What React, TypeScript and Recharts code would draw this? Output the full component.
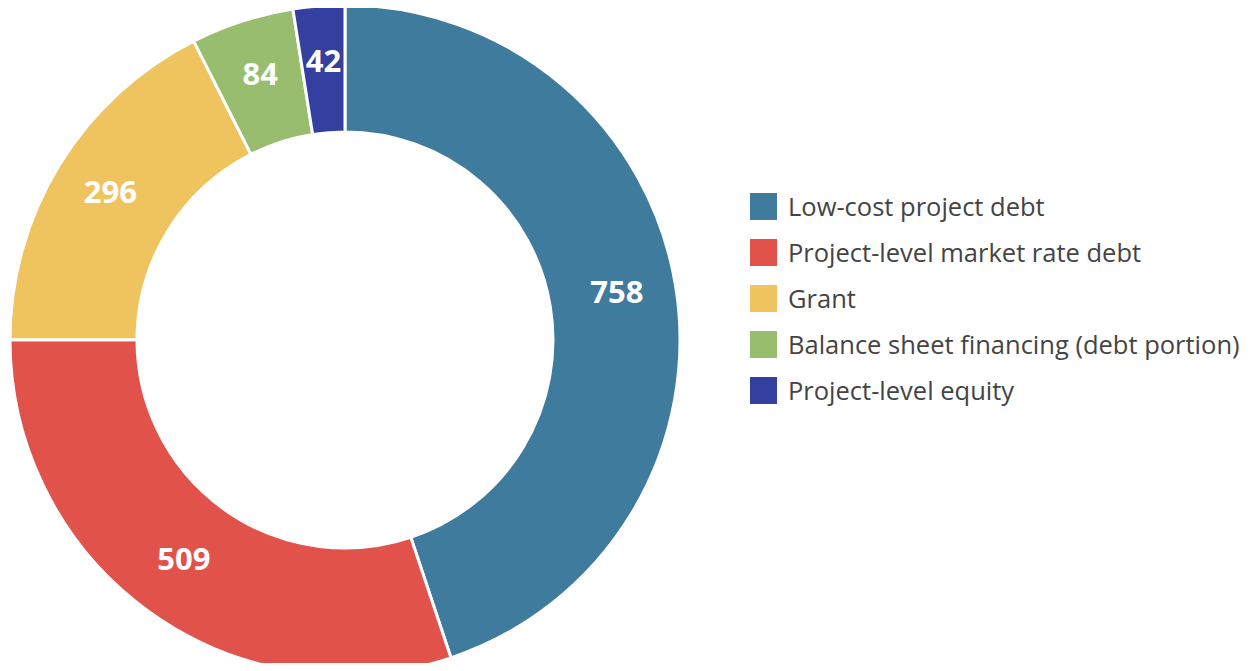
import { PieChart, Pie, Cell, Legend } from 'recharts';

// Financing sources (values in the chart's units)
const categories = [
  'Low-cost project debt',
  'Project-level market rate debt',
  'Grant',
  'Balance sheet financing (debt portion)',
  'Project-level equity',
];
const values = [758, 509, 296, 84, 42];
const COLORS = ['#3F7B9C', '#E0524A', '#EFC45F', '#98BD6E', '#3440A0'];

const data = categories.map((name, i) => ({ name, value: values[i] }));

const RADIAN = Math.PI / 180;
const FONT = "'Open Sans', Lato, sans-serif";

// Value label inside each slice, a bit outside mid radius
function renderLabel(props: any) {
  const { cx, cy, midAngle, innerRadius, outerRadius, value } = props;
  const r = (innerRadius + outerRadius) / 2 + 4;
  const x = cx + r * Math.cos(-midAngle * RADIAN);
  const y = cy + r * Math.sin(-midAngle * RADIAN) - 5;
  return (
    <text
      x={x}
      y={y}
      fill="#fff"
      textAnchor="middle"
      dominantBaseline="central"
      fontSize={31}
      fontWeight={700}
      fontFamily={FONT}
    >
      {value}
    </text>
  );
}

function LegendContent() {
  return (
    <div style={{ fontFamily: FONT }}>
      {data.map((d, i) => (
        <div key={d.name} style={{ display: 'flex', alignItems: 'center', height: 46 }}>
          <span
            style={{
              display: 'inline-block',
              width: 27,
              height: 27,
              background: COLORS[i],
              marginRight: 11,
            }}
          />
          <span style={{ fontSize: 25.5, color: '#444' }}>{d.name}</span>
        </div>
      ))}
    </div>
  );
}

export default function App() {
  return (
    <div style={{ margin: -8, width: 1257, height: 671, overflow: 'hidden', background: '#fff' }}>
      <PieChart width={1257} height={671}>
        <Pie
          data={data}
          dataKey="value"
          nameKey="name"
          cx={340}
          cy={335}
          innerRadius={208}
          outerRadius={335}
          startAngle={90}
          endAngle={-270}
          stroke="#fff"
          strokeWidth={3}
          labelLine={false}
          label={renderLabel}
          isAnimationActive={false}
        >
          {data.map((d, i) => (
            <Cell key={d.name} fill={COLORS[i]} />
          ))}
        </Pie>
        <Legend
          layout="vertical"
          content={<LegendContent />}
          wrapperStyle={{ left: 750, top: 183, width: 507 }}
        />
      </PieChart>
    </div>
  );
}
